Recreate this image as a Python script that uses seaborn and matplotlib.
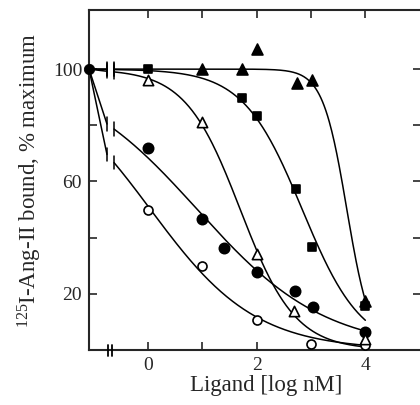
import numpy as np
import matplotlib
matplotlib.use("Agg")
import matplotlib.pyplot as plt
import seaborn as sns

# control point (no ligand), plotted on the left edge of the axis
control_x = -1.08
control_y = 100

# competition curves: ligand [log nM] vs 125I-Ang-II bound (% maximum)
open_circle_x = [0, 1, 2, 3, 4]
open_circle_y = [50, 30, 10.7, 2.1, 1.8]
filled_circle_x = [0, 1, 1.4, 2, 2.7, 3.03, 4]
filled_circle_y = [72, 46.6, 36.3, 27.9, 20.9, 15.2, 6.3]
open_triangle_x = [0, 1, 2, 2.68, 4]
open_triangle_y = [96.2, 81.2, 34.2, 14, 3.9]
filled_square_x = [0, 1.74, 2, 2.72, 3.02, 4]
filled_square_y = [100, 89.8, 83.3, 57.3, 36.5, 15.5]
filled_triangle_x = [1, 1.74, 2, 2.74, 3.02, 4]
filled_triangle_y = [100, 100, 107, 95, 96, 17.5]

xticks = [0, 1, 2, 3, 4]
xticklabels = ["0", "", "2", "", "4"]
yticks = [20, 40, 60, 80, 100]
yticklabels = ["20", "", "60", "", "100"]

# where the curves are broken ("||") between control and first dose
break1 = -0.75
break2 = -0.62
xend = 4


def fit_hill(x, y):
    # crude least squares fit, top fixed at 100 and bottom at 0
    x = np.asarray(x, dtype=float)
    y = np.asarray(y, dtype=float)
    cs = np.linspace(-1, 5, 601)[:, None, None]
    ns = np.linspace(0.2, 3, 281)[None, :, None]
    pred = 100.0 / (1 + 10 ** (ns * (x[None, None, :] - cs)))
    sse = ((pred - y) ** 2).sum(axis=2)
    i, j = np.unravel_index(sse.argmin(), sse.shape)
    return cs[i, 0, 0], ns[0, j, 0]


def hill(x, c, n):
    return 100.0 / (1 + 10 ** (n * (np.asarray(x) - c)))


series = [
    (open_circle_x, open_circle_y, "o", "white", 42),
    (filled_circle_x, filled_circle_y, "o", "black", 55),
    (open_triangle_x, open_triangle_y, "^", "white", 55),
    (filled_square_x, filled_square_y, "s", "black", 40),
    (filled_triangle_x, filled_triangle_y, "^", "black", 62),
]

sns.set_style("ticks")
plt.rcParams['font.family'] = ['Liberation Serif', 'DejaVu Serif']
plt.rcParams['mathtext.fontset'] = 'custom'
plt.rcParams['mathtext.rm'] = 'Liberation Serif'
plt.rcParams['mathtext.it'] = 'Liberation Serif:italic'

fig = plt.figure(figsize=(4.2, 4.05), dpi=100)
ax = fig.add_axes([0.212, 0.136, 0.79, 0.839])

lw = 1.1
for xs, ys, marker, face, size in series:
    c, n = fit_hill(xs, ys)
    # segment from control to the break
    y1 = hill(break1, c, n)
    ax.plot([control_x, break1], [control_y, y1], color="black", lw=lw,
            clip_on=False, zorder=2)
    y2 = hill(break2, c, n)
    ax.plot([break1, break1], [y1 - 2.4, y1 + 2.4], color="black", lw=lw, zorder=2)
    ax.plot([break2, break2], [y2 - 2.4, y2 + 2.4], color="black", lw=lw, zorder=2)
    xx = np.linspace(break2, xend, 300)
    sns.lineplot(x=xx, y=hill(xx, c, n), ax=ax, color="black", lw=lw,
                 estimator=None, sort=False, zorder=2)
    sns.scatterplot(x=xs, y=ys, ax=ax, marker=marker, s=size, color=face,
                    edgecolor="black", linewidth=1.2, zorder=4, clip_on=False)

sns.scatterplot(x=[control_x], y=[control_y], ax=ax, marker="o", s=55,
                color="black", edgecolor="black", zorder=5, clip_on=False)

# axis break on the x axis
for xb in [-0.73, -0.66]:
    ax.plot([xb, xb], [-2.0, 1.6], color="black", lw=1.3, clip_on=False, zorder=5)

ax.set_xlim(control_x, 5.02)
ax.set_ylim(0, 121)
ax.set_xticks(xticks)
ax.set_xticklabels(xticklabels)
ax.set_yticks(yticks)
ax.set_yticklabels(yticklabels)
ax.tick_params(direction="in", top=True, right=True, length=6, width=1.2,
               labelsize=14, pad=5)
for side in ["left", "bottom", "top"]:
    ax.spines[side].set_linewidth(1.5)
ax.spines["right"].set_visible(False)

ax.set_xlabel("Ligand [log nM]", fontsize=16.5)
ax.set_ylabel(r"$^{125}$I-Ang-II bound, $\mathit{\%}$ maximum", fontsize=16.5, labelpad=6)
ax.xaxis.set_label_coords(0.535, -0.075)

fig.savefig("out.png", dpi=100)
